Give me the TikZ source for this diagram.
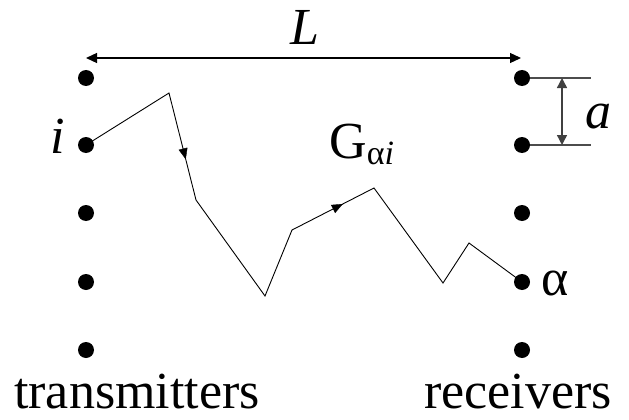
\documentclass[tikz,border=0pt]{standalone}
\usepackage{fontspec}
\setmainfont{Liberation Serif}
\usetikzlibrary{arrows.meta,decorations.markings}
\begin{document}
\begin{tikzpicture}[x=1pt,y=-1pt,
  dot/.style={circle,fill=black,inner sep=0pt,minimum size=16pt},
  lbl/.style={font=\fontsize{52}{60}\selectfont,inner sep=0pt,anchor=base west},
  dim/.style={line width=1.3pt,{Triangle[length=11pt,width=10pt]}-{Triangle[length=11pt,width=10pt]}},
  guide/.style={line width=1.4pt,black!70}]
\useasboundingbox (0,0) rectangle (629,420);
% transmitters
\foreach \n/\y in {1/78,2/145,3/213,4/282,5/350}
  \node[dot] (t\n) at (86,\y) {};
% receivers
\foreach \n/\y in {1/78,2/145,3/213,4/282,5/350}
  \node[dot] (r\n) at (522,\y) {};
% L dimension
\coordinate (Ll) at (86,58);
\coordinate (Lr) at (521,58);
\draw[dim] (Ll) -- (Lr);
\node[lbl,font=\fontsize{52}{60}\selectfont\itshape] (L) at (290,45) {L};
% a dimension
\coordinate (a1) at (591,78);
\coordinate (a2) at (591,145);
\draw[guide] (r1) -- (a1);
\draw[guide] (r2) -- (a2);
\coordinate (v1) at (562,78);
\coordinate (v2) at (562,145);
\draw[line width=1.4pt,black!75,{Triangle[length=10pt,width=10pt]}-{Triangle[length=10pt,width=10pt]}] (v1) -- (v2);
\node[lbl,font=\fontsize{52}{60}\selectfont\itshape] (alab) at (585,128) {a};
% path
\coordinate (p1) at (169,93);
\coordinate (p2) at (196,200);
\coordinate (p3) at (265,296);
\coordinate (p4) at (292,230);
\coordinate (p5) at (374,188);
\coordinate (p6) at (443,283);
\coordinate (p7) at (469,243);
\draw[line width=0.9pt] (t2.center) -- (p1) -- (p2) -- (p3) -- (p4) -- (p5) -- (p6) -- (p7) -- (r4.center);
\path[postaction={decorate,decoration={markings,mark=at position 0.62 with {\arrow{Triangle[length=11pt,width=9pt]}}}}] (p1) -- (p2);
\path[postaction={decorate,decoration={markings,mark=at position 0.62 with {\arrow{Triangle[length=11pt,width=9pt]}}}}] (p4) -- (p5);
% labels
\node[lbl,font=\fontsize{52}{60}\selectfont\itshape] (ilab) at (50,153) {i};
\node[lbl] (alpha) at (541,295) {α};
\node[lbl] (G) at (329,158) {G\raisebox{-6pt}{\fontsize{34}{40}\selectfont α\textit{i}}};
\node[lbl] (tx) at (14,408) {transmitters};
\node[lbl] (rx) at (424,408) {receivers};
\end{tikzpicture}
\end{document}
